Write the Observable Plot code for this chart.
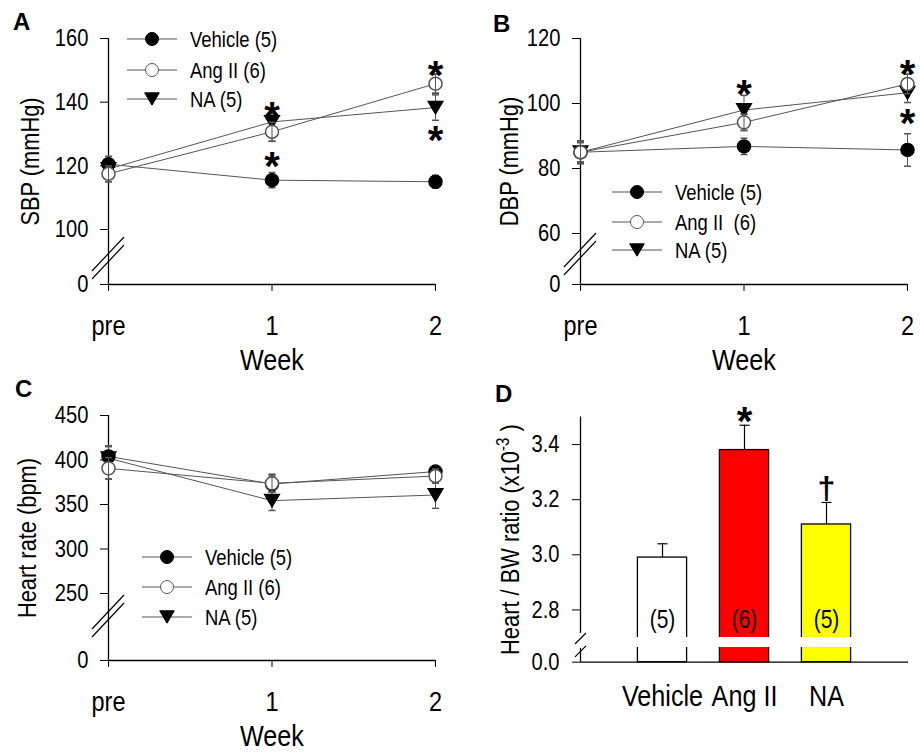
<!DOCTYPE html>
<html>
<head>
<meta charset="utf-8">
<script src="https://cdn.jsdelivr.net/npm/d3@7"></script>
<script src="https://cdn.jsdelivr.net/npm/@observablehq/plot@0.6"></script>
<style>
  body { margin: 0; background: #fff; }
  #wrap { position: relative; width: 920px; height: 752px; background: #fff; overflow: hidden; }
  #wrap > svg { position: absolute; }
</style>
</head>
<body>
<div id="wrap"></div>
<script>
// ---------- data ----------
const weekTicks = [0, 1, 2];
const weekLabels = ["pre", "1", "2"];
const groups = ["Vehicle", "Ang II", "NA"];
const groupN = ["(5)", "(6)", "(5)"];
const legendA = ["Vehicle (5)", "Ang II (6)", "NA (5)"];
const legendB = ["Vehicle (5)", "Ang II  (6)", "NA (5)"];
const legendC = ["Vehicle (5)", "Ang II (6)", "NA (5)"];

// A: SBP (mmHg)
const sbpVehicle = [120.5, 115.5, 115.0];
const sbpVehicleErr = [2.5, 2.4, 2.0];
const sbpAngII = [117.5, 130.7, 145.8];
const sbpAngIIErr = [2.5, 3.0, 3.0];
const sbpNA = [119.0, 133.8, 138.3];
const sbpNAErr = [2.5, 2.5, 4.0];
const sbpTicks = [0, 100, 120, 140, 160];
const sbpStarWeek = [1, 1, 2, 2];
const sbpStarY = [138.5, 122.8, 151.2, 131.0];

// B: DBP (mmHg)
const dbpVehicle = [85.0, 86.8, 85.7];
const dbpVehicleErr = [3.0, 2.5, 5.0];
const dbpAngII = [85.0, 94.2, 106.0];
const dbpAngIIErr = [3.5, 2.5, 3.0];
const dbpNA = [85.0, 98.0, 103.3];
const dbpNAErr = [3.0, 4.5, 3.0];
const dbpTicks = [0, 60, 80, 100, 120];
const dbpStarWeek = [1, 2, 2];
const dbpStarY = [105.5, 111.7, 96.8];

// C: Heart rate (bpm)
const hrVehicle = [404, 373, 387];
const hrVehicleErr = [12, 9, 6];
const hrAngII = [390.6, 373.8, 382];
const hrAngIIErr = [12, 10, 8];
const hrNA = [402, 354.3, 360.7];
const hrNAErr = [13, 11, 15];
const hrTicks = [0, 250, 300, 350, 400, 450];

// D: Heart / BW ratio (x10^-3)
const ratioMean = [2.99, 3.38, 3.11];
const ratioErr = [0.05, 0.09, 0.08];
const ratioTicks = [0, 2.8, 3.0, 3.2, 3.4];
const ratioColors = ["#ffffff", "#ff0000", "#ffff00"];
const ratioSig = ["", "*", "\u2020"];
const ratioSigY = [null, 3.516, 3.24];

// ---------- helpers ----------
const FONT = '"Liberation Sans",Arial,sans-serif';
const W = 460, H = 376;
const LINE = "#555";
const SQUEEZE = 0.84; // narrow sans look

const triDown = {draw(ctx, size) {
  const r = Math.sqrt(size / Math.PI), w = r * 1.12, h = r * 0.95;
  ctx.moveTo(-w, -h); ctx.lineTo(w, -h); ctx.lineTo(0, h); ctx.closePath();
}};
const capSym = {draw(ctx, size) {
  const r = Math.sqrt(size / Math.PI);
  ctx.moveTo(-r, 0); ctx.lineTo(r, 0);
}};

function condense(svg) {
  svg.querySelectorAll("text").forEach((t) => {
    const c = t.textContent.trim();
    if (c === "*" || c === "\u2020") return;
    const tr = t.getAttribute("transform");
    if (tr) {
      t.setAttribute("transform", tr + ` scale(${SQUEEZE},1)`);
    } else {
      const x = parseFloat(t.getAttribute("x") || 0);
      t.setAttribute("x", 0);
      t.setAttribute("transform", `translate(${x},0) scale(${SQUEEZE},1)`);
    }
  });
}

function addBreak(svg, cx, cy) {
  const g = d3.select(svg).append("g").attr("stroke", "#000").attr("stroke-width", 1.2);
  for (const d of [-4, 4]) {
    g.append("line").attr("x1", cx - 16).attr("y1", cy + 17 + d).attr("x2", cx + 16).attr("y2", cy - 17 + d);
  }
}

function addLegend(svg, labels, o) {
  const specs = [
    {type: d3.symbolCircle, fill: "#000", stroke: "#000"},
    {type: d3.symbolCircle, fill: "#fff", stroke: "#555"},
    {type: triDown, fill: "#000", stroke: "#000"}
  ];
  const g = d3.select(svg).append("g");
  labels.forEach((lab, i) => {
    const y = o.ys[i];
    g.append("line").attr("x1", o.x1).attr("x2", o.x2).attr("y1", y).attr("y2", y).attr("stroke", LINE);
    g.append("path").attr("d", d3.symbol(specs[i].type, Math.PI * 6.5 * 6.5)())
      .attr("transform", `translate(${o.xm},${y})`)
      .attr("fill", specs[i].fill).attr("stroke", specs[i].stroke);
    g.append("text").attr("transform", `translate(${o.xt},${y})`).attr("dy", "0.36em")
      .attr("text-anchor", "start")
      .attr("font-family", FONT).attr("font-size", 22).attr("fill", "#000").text(lab);
  });
}

function place(svg, left, top) {
  svg.style.left = left + "px";
  svg.style.top = top + "px";
  document.getElementById("wrap").appendChild(svg);
}

function linePanel(cfg) {
  const rows = [];
  cfg.series.forEach((s, gi) => s.mean.forEach((m, k) =>
    rows.push({group: groups[gi], week: weekTicks[k], mean: m, err: s.err[k]})));
  const by = (g) => rows.filter((d) => d.group === g);
  const stars = cfg.starWeek.map((w, i) => ({week: w, y: cfg.starY[i]}));
  const [x0, x1] = cfg.xRange;
  const yr = cfg.yRange;
  const errMarks = (data) => [
    Plot.ruleX(data, {x: "week", y1: (d) => d.mean - d.err, y2: (d) => d.mean + d.err, stroke: LINE, strokeWidth: 1}),
    Plot.dot(data, {x: "week", y: (d) => d.mean + d.err, symbol: capSym, r: 3.5, fill: "none", stroke: LINE}),
    Plot.dot(data, {x: "week", y: (d) => d.mean - d.err, symbol: capSym, r: 3.5, fill: "none", stroke: LINE})
  ];
  return Plot.plot({
    width: W, height: H,
    marginLeft: x0, marginRight: W - x1, marginTop: yr[yr.length - 1], marginBottom: H - yr[0],
    style: {fontFamily: FONT, color: "#000", background: "transparent", overflow: "visible"},
    x: {type: "linear", domain: [0, 2], range: cfg.xRange, label: null},
    y: {type: "linear", domain: cfg.yDomain, range: yr, label: null},
    marks: [
      Plot.ruleX([0], {y1: cfg.yDomain[0], y2: cfg.yDomain[cfg.yDomain.length - 1], stroke: "#000", strokeWidth: 1.3}),
      Plot.ruleY([cfg.yDomain[0]], {x1: 0, x2: 2, stroke: "#000", strokeWidth: 1.3}),
      Plot.axisY({ticks: cfg.ticks, tickSize: 8, tickPadding: 12, fontSize: 24, tickFormat: (d) => String(d), label: null}),
      Plot.axisX({ticks: weekTicks, tickSize: 7, tickPadding: 24, fontSize: 28, tickFormat: (d) => weekLabels[d], label: null}),
      Plot.text([cfg.yLabel], {frameAnchor: "left", textAnchor: "middle", lineAnchor: "middle", rotate: -90, dx: cfg.yLabelDx, fontSize: 26}),
      Plot.text(["Week"], {frameAnchor: "bottom", textAnchor: "middle", lineAnchor: "middle", dy: 76, fontSize: 30}),
      Plot.line(rows, {x: "week", y: "mean", z: "group", stroke: LINE, strokeWidth: 1}),
      ...errMarks(rows),
      Plot.dot(by("Vehicle"), {x: "week", y: "mean", r: 6.5, fill: "#000", stroke: "#000"}),
      Plot.dot(by("NA"), {x: "week", y: "mean", r: 6.5, symbol: triDown, fill: "#000", stroke: "#000"}),
      Plot.dot(by("Ang II"), {x: "week", y: "mean", r: 6.5, fill: "#fff", stroke: LINE}),
      ...errMarks(by("Ang II")),
      Plot.text(stars, {x: "week", y: "y", text: () => "*", fontSize: 40, fontWeight: "bold", dy: 10})
    ]
  });
}

// ---------- panel A ----------
const svgA = linePanel({
  series: [{mean: sbpVehicle, err: sbpVehicleErr}, {mean: sbpAngII, err: sbpAngIIErr}, {mean: sbpNA, err: sbpNAErr}],
  ticks: sbpTicks, yDomain: [0, 100, 160], yRange: [284, 229, 38], xRange: [108, 435],
  yLabel: "SBP (mmHg)", yLabelDx: -78, starWeek: sbpStarWeek, starY: sbpStarY
});
addBreak(svgA, svgA.scale("x").apply(0), 258);
addLegend(svgA, legendA, {x1: 127, x2: 177, xm: 152, xt: 190, ys: [39, 70, 99]});
condense(svgA);
place(svgA, 0, 0);

// ---------- panel B ----------
const svgB = linePanel({
  series: [{mean: dbpVehicle, err: dbpVehicleErr}, {mean: dbpAngII, err: dbpAngIIErr}, {mean: dbpNA, err: dbpNAErr}],
  ticks: dbpTicks, yDomain: [0, 60, 120], yRange: [284, 233, 38], xRange: [120, 447],
  yLabel: "DBP (mmHg)", yLabelDx: -71, starWeek: dbpStarWeek, starY: dbpStarY
});
addBreak(svgB, svgB.scale("x").apply(0), 254);
addLegend(svgB, legendB, {x1: 152, x2: 202, xm: 177, xt: 215, ys: [192, 222, 250]});
condense(svgB);
place(svgB, 460, 0);

// ---------- panel C ----------
const svgC = linePanel({
  series: [{mean: hrVehicle, err: hrVehicleErr}, {mean: hrAngII, err: hrAngIIErr}, {mean: hrNA, err: hrNAErr}],
  ticks: hrTicks, yDomain: [0, 250, 450], yRange: [284, 217, 39], xRange: [108, 435],
  yLabel: "Heart rate (bpm)", yLabelDx: -81, starWeek: [], starY: []
});
addBreak(svgC, svgC.scale("x").apply(0), 240);
addLegend(svgC, legendC, {x1: 142, x2: 192, xm: 167, xt: 205, ys: [181, 211, 241]});
condense(svgC);
place(svgC, 0, 376);

// ---------- panel D ----------
const bars = groups.map((g, i) => ({i: i + 1, group: g, mean: ratioMean[i], err: ratioErr[i], color: ratioColors[i], n: groupN[i], sig: ratioSig[i], sigY: ratioSigY[i]}));
const svgD = Plot.plot({
  width: W, height: H,
  marginLeft: 120, marginRight: 12, marginTop: 40.5, marginBottom: H - 285.7,
  style: {fontFamily: FONT, color: "#000", background: "transparent", overflow: "visible"},
  x: {type: "linear", domain: [0, 4], range: [120, 448], label: null},
  y: {type: "linear", domain: [0, 2.6, 2.7, 3.5], range: [285.7, 271, 261, 40.5], label: null},
  color: {type: "identity"},
  marks: [
    Plot.ruleX([0], {y1: 0, y2: 2.45, stroke: "#000", strokeWidth: 1.3}),
    Plot.ruleX([0], {y1: 2.715, y2: 3.5, stroke: "#000", strokeWidth: 1.3}),
    Plot.ruleY([0], {x1: 0, x2: 4, stroke: "#000", strokeWidth: 1.3}),
    Plot.axisY({ticks: ratioTicks, tickSize: 8, tickPadding: 13, fontSize: 24, tickFormat: d3.format(".1f"), label: null}),
    Plot.axisX({ticks: [1, 2, 3], tickSize: 0, tickPadding: 22, fontSize: 30, tickFormat: (d) => groups[d - 1], label: null}),
    Plot.text(["Heart / BW ratio (x10-3 )"], {frameAnchor: "left", textAnchor: "middle", lineAnchor: "middle", rotate: -90, dx: -70, fontSize: 26}),
    Plot.rect(bars, {x1: (d) => d.i - 0.3, x2: (d) => d.i + 0.3, y1: 0, y2: "mean", fill: "color", stroke: "#000", strokeWidth: 1.3}),
    Plot.rect(bars, {x1: (d) => d.i - 0.3, x2: (d) => d.i + 0.3, y1: 2.6, y2: 2.7, fill: "#fff", insetLeft: -2, insetRight: -2}),
    Plot.ruleX(bars, {x: "i", y1: "mean", y2: (d) => d.mean + d.err, stroke: "#000", strokeWidth: 1.2}),
    Plot.dot(bars, {x: "i", y: (d) => d.mean + d.err, symbol: capSym, r: 5, fill: "none", stroke: "#000", strokeWidth: 1.2}),
    Plot.text(bars, {x: "i", text: "n", frameAnchor: "bottom", lineAnchor: "middle", dy: -42, fontSize: 25}),
    Plot.text(bars.filter((d) => d.sig === "*"), {x: "i", y: "sigY", text: "sig", fontSize: 40, fontWeight: "bold", dy: 10}),
    Plot.text(bars.filter((d) => d.sig === "\u2020"), {x: "i", y: "sigY", text: "sig", fontSize: 32, fontWeight: "bold", dy: 0})
  ]
});
// superscript in D's y label
d3.select(svgD).selectAll("text").each(function () {
  if (this.textContent === "Heart / BW ratio (x10-3 )") {
    this.textContent = "";
    const t = d3.select(this);
    t.append("tspan").text("Heart / BW ratio (x10");
    t.append("tspan").attr("dy", -10).attr("font-size", 18).text("-3");
    t.append("tspan").attr("dy", 10).text(" )");
  }
});
{
  const ax = svgD.scale("x").apply(0), ys = svgD.scale("y");
  const g = d3.select(svgD).append("g").attr("stroke", "#000").attr("stroke-width", 1.2);
  const c1 = ys.apply(2.7) + 1, c2 = ys.apply(2.45) + 3;
  for (const c of [c1, c2]) g.append("line").attr("x1", ax - 5).attr("y1", c + 6).attr("x2", ax + 6).attr("y2", c - 5);
}
condense(svgD);
place(svgD, 460, 376);

// ---------- panel letters ----------
const over = d3.select("#wrap").append("svg").attr("width", 920).attr("height", 752).style("left", "0px").style("top", "0px");
[["A", 13, 30], ["B", 493, 32], ["C", 15, 397], ["D", 495, 402]].forEach(([t, x, y]) =>
  over.append("text").attr("x", x).attr("y", y).attr("font-family", FONT).attr("font-weight", "bold").attr("font-size", 24).text(t));
</script>
</body>
</html>
